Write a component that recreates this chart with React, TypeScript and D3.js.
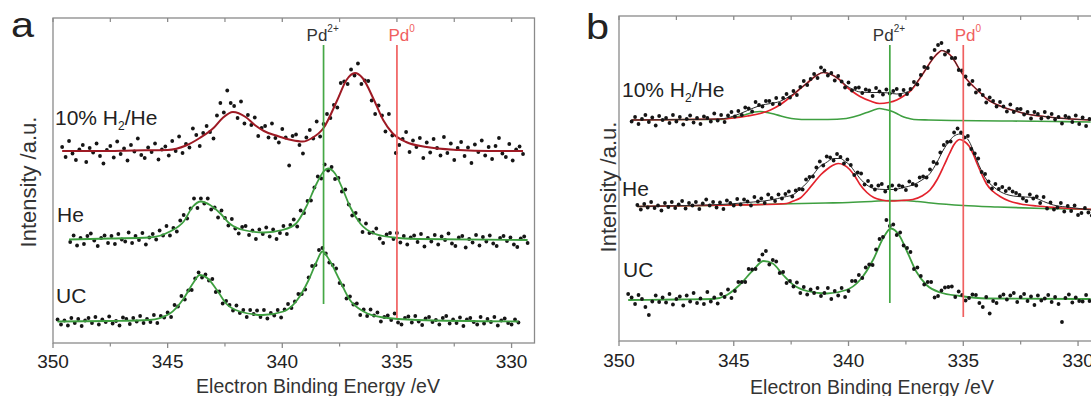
import React from 'react';
import * as d3 from 'd3';

type Pt = [number, number];

// ---------- measurement grid ----------
const STEP = 0.15; // eV between recorded points

// ---------- panel a : recorded intensities (a.u.) ----------
const aH2Start = 349.6;
const aH2 = [
  392,372,404,379,366,387,396,362,390,381,
  399,374,359,386,394,371,403,378,389,365,
  396,383,409,376,370,391,382,399,367,387,
  393,375,404,384,413,380,398,391,429,416,
  394,420,434,422,409,455,480,461,505,480,
  474,450,483,439,456,436,451,414,430,434,
  411,439,410,401,428,411,355,414,417,396,
  379,411,426,409,443,413,438,458,450,476,
  471,520,523,518,547,535,559,518,525,524,
  485,458,475,455,423,458,415,380,396,408,
  422,382,405,392,410,370,401,381,408,390,
  375,412,380,399,366,390,402,374,391,360,
  397,382,405,375,392,368,394,410,379,372,
  398,365,387,393,378,
];
const aHeStart = 349.25;
const aHe = [
  202,215,195,210,198,214,219,205,194,210,
  215,200,214,198,218,207,203,221,200,214,
  206,220,197,211,218,207,225,215,234,215,
  230,223,245,256,249,269,289,270,289,279,
  289,267,271,251,265,250,235,248,229,219,
  232,234,216,225,208,227,218,231,213,227,
  208,220,234,218,236,247,233,265,260,284,
  285,311,333,329,357,345,352,328,330,303,
  307,277,255,260,246,222,239,220,221,229,
  209,200,217,220,208,220,201,214,197,211,
  215,202,218,193,210,203,216,197,213,206,
  219,199,194,211,214,191,208,201,216,195,
  212,203,215,199,194,210,214,204,211,197,
  192,209,213,200,
];
const aUCStart = 349.8;
const aUC = [
  47,37,45,35,50,40,48,34,45,50,
  40,52,37,47,42,53,39,44,35,51,
  48,38,50,43,54,40,48,42,56,40,
  54,51,61,52,76,73,94,87,105,106,
  129,141,131,137,125,128,102,103,79,84,
  76,65,75,60,66,52,66,58,65,52,
  66,49,60,55,66,51,67,78,70,83,
  98,98,107,131,154,156,186,190,179,161,
  156,149,120,115,89,93,77,79,56,67,
  54,67,55,61,43,52,55,46,59,41,
  37,50,53,41,54,43,36,49,52,42,
  46,37,50,54,39,47,40,51,34,47,
  50,42,37,52,39,48,42,52,35,45,
  49,40,37,47,41,
];

// ---------- panel a : fitted envelopes [eV, a.u.] ----------
const aH2Fit: Pt[] = [[349.6,384],[348,384],[346.5,385],[345,386],[344.2,395],[343.6,410],[343,430],[342.6,450],[342.15,462],[341.6,452],[341.2,436],[340.8,424],[340.2,414],[339.6,406],[339.1,403],[338.7,410],[338.2,430],[337.6,486],[337.2,526],[336.83,540],[336.5,530],[336,486],[335.6,446],[335.2,420],[334.6,402],[333.7,392],[332.3,386],[331,384],[329.5,384]];
const aHeFit: Pt[] = [[349.3,207],[347.5,209],[345.8,211],[344.9,223],[344.3,243],[343.9,273],[343.55,283],[343.15,276],[342.7,259],[342.3,239],[341.7,226],[340.8,221],[340,226],[339.4,239],[338.95,273],[338.5,319],[338.2,343],[338,349],[337.7,339],[337.35,306],[337.05,273],[336.6,239],[336,219],[335.15,211],[334.1,208],[329.3,206]];
const aUCFit: Pt[] = [[349.8,43],[347.5,44],[345.8,46],[344.9,59],[344.3,89],[343.9,119],[343.6,136],[343.25,129],[342.85,106],[342.45,79],[341.85,63],[340.85,56],[339.95,63],[339.35,86],[338.85,126],[338.5,163],[338.25,183],[337.95,166],[337.5,126],[337.05,86],[336.45,63],[335.6,51],[334.1,46],[329.7,43]];

// ---------- panel b : recorded intensities (a.u.) ----------
const bH2Start = 349.45;
const bH2 = [
  439,448,434,444,452,438,447,431,450,442,
  446,436,452,439,448,433,444,451,437,446,
  434,449,446,439,455,441,452,438,451,458,
  449,460,452,467,465,459,478,472,469,480,
  480,474,486,474,486,494,487,500,492,508,
  520,512,524,534,526,547,541,531,536,521,
  530,519,507,517,501,506,507,496,503,501,
  490,506,499,493,503,495,500,504,492,502,
  494,504,518,513,532,548,546,566,582,592,
  596,573,580,566,566,542,541,529,513,520,
  497,502,492,477,487,480,469,478,469,459,
  473,458,464,464,453,458,445,458,454,445,
  458,447,454,443,448,435,450,447,438,451,
  434,447,430,444,437,
];
const bHeStart = 349.2;
const bHe = [
  272,263,274,267,278,266,271,261,276,268,
  278,266,273,280,265,276,271,278,264,275,
  283,271,278,267,277,264,281,276,271,284,
  273,283,279,271,288,279,285,276,293,286,
  280,293,285,294,299,289,301,304,303,323,
  328,329,347,359,351,369,367,361,374,368,
  355,363,352,332,337,335,313,320,310,303,
  311,314,299,308,311,303,311,309,302,319,
  314,311,327,329,327,343,358,355,377,392,
  398,399,417,425,417,407,410,384,375,365,
  338,334,319,305,314,304,308,300,305,299,
  296,292,285,280,293,285,289,276,288,265,
  277,263,267,276,259,270,260,271,252,256,
  266,257,251,266,
];
const bUCStart = 349.6;
const bUC = [
  94,87,74,92,84,68,52,79,91,78,
  87,77,94,73,84,89,71,91,79,96,
  76,85,74,98,79,87,75,94,88,103,
  86,100,118,118,118,144,143,144,162,173,
  180,153,162,159,136,138,116,120,109,117,
  96,108,93,103,96,106,90,96,106,84,
  100,91,106,88,100,120,120,132,126,147,
  153,152,183,204,208,242,230,233,212,217,
  191,186,178,144,147,130,113,118,118,87,
  90,101,107,108,109,88,99,92,81,86,
  93,92,76,68,88,55,80,76,89,93,
  83,91,96,78,88,94,80,89,72,91,
  81,85,92,78,88,74,38,86,93,77,
  87,80,79,92,80,88,
];

// ---------- panel b : fitted components [eV, a.u.] ----------
const bH2Green: Pt[] = [[349.45,442],[346.5,443],[345.6,443],[345.3,445],[345,447],[344.7,450],[344.4,454],[344.1,458],[343.85,459],[343.55,457],[343.25,454],[342.95,450],[342.7,447],[342.3,444],[341.8,443],[340.9,443],[340.1,445],[339.8,448],[339.5,452],[339.2,457],[338.9,462],[338.65,465],[338.4,463],[338.15,460],[337.9,455],[337.7,450],[337.45,446],[337.15,443],[336.5,442],[335.4,441],[333,440],[331,439],[329.45,438]];
const bH2Red: Pt[] = [[349.45,442],[347,443],[345.6,444],[345,446],[344.4,450],[343.85,455],[343.4,462],[343,472],[342.7,482],[342.4,493],[342.1,505],[341.8,516],[341.4,531],[341.1,537],[340.75,533],[340.4,523],[340.1,509],[339.8,498],[339.5,489],[339.05,480],[338.65,475],[338.25,477],[337.9,482],[337.6,490],[337.3,500],[337,518],[336.75,535],[336.5,553],[336.3,566],[336.1,576],[335.94,581],[335.75,578],[335.55,571],[335.35,558],[335.15,542],[334.9,526],[334.55,509],[334.25,496],[334,485],[333.55,473],[333.1,465],[332.65,459],[332.25,454],[331.65,450],[331.1,447],[330.3,444],[329.45,442]];
const bH2Sum: Pt[] = [[349.45,442],[347,443],[345.6,444],[345,450],[344.4,461],[343.85,471],[343.4,475],[343,479],[342.7,486],[342.4,494],[342.1,505],[341.8,516],[341.4,531],[341.1,537],[340.75,533],[340.4,523],[340.1,511],[339.8,503],[339.5,498],[339.05,497],[338.65,497],[338.25,496],[337.9,494],[337.6,496],[337.3,502],[337,519],[336.75,535],[336.5,553],[336.3,566],[336.1,576],[335.94,581],[335.75,578],[335.55,571],[335.35,558],[335.15,542],[334.9,526],[334.55,509],[334.25,496],[334,485],[333.55,473],[333.1,465],[332.65,459],[332.25,454],[331.65,450],[331.1,447],[330.3,444],[329.45,442]];
const bHeGreen: Pt[] = [[349.2,269],[346,271],[343,274],[341,276],[340,277],[339,279],[338.2,281],[337.6,281],[337,279],[336.4,276],[335,271],[333.5,268],[331.5,265],[329.4,263]];
const bHeRed: Pt[] = [[349.2,269],[345,272],[343,274],[342.7,275],[342.4,280],[342.1,286],[341.8,300],[341.5,317],[341.2,333],[340.95,343],[340.7,351],[340.45,355],[340.2,352],[339.95,343],[339.7,328],[339.5,313],[339.2,297],[338.9,287],[338.55,282],[338.2,280],[337.7,281],[337.2,283],[336.8,290],[336.45,302],[336.15,322],[335.85,350],[335.6,375],[335.4,393],[335.15,403],[334.95,399],[334.75,390],[334.55,372],[334.4,355],[334.2,334],[334,315],[333.7,299],[333.4,289],[333,280],[332.5,274],[331.8,270],[331,267],[329.4,263]];
const bHeSum: Pt[] = [[349.2,269],[347,271],[345.6,273],[344.4,277],[343.4,282],[342.8,288],[342.4,293],[342.1,304],[341.8,317],[341.5,335],[341.25,349],[341,356],[340.65,365],[340.35,365],[340.15,359],[339.95,352],[339.7,337],[339.5,325],[339.2,312],[338.9,305],[338.4,303],[338.05,303],[337.6,307],[337.2,312],[336.8,322],[336.45,335],[336.15,357],[335.87,382],[335.6,400],[335.43,409],[335.14,414],[334.95,409],[334.78,402],[334.6,385],[334.41,362],[334.2,340],[333.98,322],[333.7,309],[333.4,299],[332.82,290],[332.3,288],[331.95,287],[331.5,279],[331.08,272],[330.3,267],[329.4,262]];
const bUCFit: Pt[] = [[349.6,82],[347.5,83],[345.9,84],[345.3,92],[344.75,112],[344.15,142],[343.7,160],[343.3,155],[342.85,132],[342.4,112],[341.8,100],[340.95,95],[340.1,102],[339.5,122],[338.9,165],[338.5,205],[338.15,225],[337.8,212],[337.45,179],[337.05,139],[336.6,112],[336,97],[335.15,90],[334,85],[329.45,84]];

// ---------- axes ----------
const majorTicks = [350, 345, 340, 335, 330];
const minorTicks = [347.5, 342.5, 337.5, 332.5];
const xDomain: [number, number] = [350, 329];
const yDomain: [number, number] = [0, 650];
const pd2Energy = 338.2;
const pd0Energy = 335.0;
const seriesNames = ['10% H', 'He', 'UC'];

// ---------- styles ----------
const FONT = "'Liberation Sans', Arial, Helvetica, sans-serif";
const GREEN = '#3e9f40';
const DARKRED = '#9e1a24';
const RED = '#e3222c';
const VRED = '#f06060';
const VGREEN = '#45a845';
const TEXT = '#222';
const FRAME = '#8a8a8a';

type Fit = { pts: Pt[]; color: string; width: number };
type Series = { start: number; values: number[] };
type Label = { x: number; y: number; kind: 'h2' | 'plain'; text: string };

type PanelCfg = {
  letter: string; letterX: number; letterY: number;
  left: number; right: number; top: number; bottom: number;
  yTitleX: number; yTitleY: number; xTitleX: number; xTitleY: number;
  tickLabelDy: number;
  series: Series[]; fits: Fit[]; dotsOnTop: boolean;
  labels: Label[];
  vTop: number; pd2Bottom: number; pd0Bottom: number;
};

function toPts(s: Series): Pt[] {
  return s.values.map((v, i) => [s.start - STEP * i, v]);
}

function Panel({ c }: { c: PanelCfg }) {
  const x = d3.scaleLinear().domain(xDomain).range([c.left, c.right]);
  const y = d3.scaleLinear().domain(yDomain).range([c.bottom, c.top]);
  const line = d3.line<Pt>().x(d => x(d[0])).y(d => y(d[1])).curve(d3.curveMonotoneX);

  const dots = (
    <g fill="#151515">
      {c.series.map((s, si) =>
        toPts(s).map((p, i) => (
          <circle key={si + '-' + i} cx={x(p[0])} cy={y(p[1])} r={1.9} />
        ))
      )}
    </g>
  );
  const fits = (
    <g fill="none">
      {c.fits.map((f, i) => (
        <path key={i} d={line(f.pts) || ''} stroke={f.color} strokeWidth={f.width} strokeLinejoin="round" />
      ))}
    </g>
  );

  const x2 = x(pd2Energy);
  const x0 = x(pd0Energy);

  return (
    <g fontFamily={FONT}>
      <rect x={c.left} y={c.top} width={c.right - c.left} height={c.bottom - c.top} fill="none" stroke={FRAME} strokeWidth={1.3} />
      {majorTicks.map(t => (
        <g key={'M' + t}>
          <line x1={x(t)} x2={x(t)} y1={c.bottom} y2={c.bottom + 5} stroke={FRAME} strokeWidth={1.3} />
          <line x1={x(t)} x2={x(t)} y1={c.top} y2={c.top + 4} stroke={FRAME} strokeWidth={1.3} />
          <text x={x(t)} y={c.bottom + c.tickLabelDy} textAnchor="middle" fontSize={19} fill={TEXT}>{String(t)}</text>
        </g>
      ))}
      {minorTicks.map(t => (
        <g key={'m' + t}>
          <line x1={x(t)} x2={x(t)} y1={c.bottom} y2={c.bottom + 3.5} stroke={FRAME} strokeWidth={1.2} />
          <line x1={x(t)} x2={x(t)} y1={c.top} y2={c.top + 4} stroke={FRAME} strokeWidth={1.2} />
        </g>
      ))}
      {c.dotsOnTop ? fits : dots}
      {c.dotsOnTop ? dots : fits}
      <line x1={x2} x2={x2} y1={c.vTop} y2={c.pd2Bottom} stroke={VGREEN} strokeWidth={1.7} />
      <line x1={x0} x2={x0} y1={c.vTop} y2={c.pd0Bottom} stroke={VRED} strokeWidth={1.7} />
      <text x={x2 - 17} y={41} fontSize={17} fill="#333">Pd<tspan fontSize={10} dy={-9}>2+</tspan></text>
      <text x={x0 - 8.5} y={41} fontSize={17} fill={VRED}>Pd<tspan fontSize={10} dy={-9}>0</tspan></text>
      {c.labels.map((l, i) =>
        l.kind === 'h2' ? (
          <text key={i} x={l.x} y={l.y} fontSize={21} fill={TEXT}>
            {l.text}<tspan fontSize={12} dy={5}>2</tspan><tspan dy={-5}>/He</tspan>
          </text>
        ) : (
          <text key={i} x={l.x} y={l.y} fontSize={21} fill={TEXT}>{l.text}</text>
        )
      )}
      <text transform={`translate(${c.letterX},${c.letterY}) scale(1.15,1)`} fontSize={36} fill={TEXT}>{c.letter}</text>
      <text transform={`translate(${c.yTitleX},${c.yTitleY}) rotate(-90)`} textAnchor="middle" fontSize={22} fill="#333">Intensity /a.u.</text>
      <text x={c.xTitleX} y={c.xTitleY} textAnchor="middle" fontSize={19.5} fill="#333">Electron Binding Energy /eV</text>
    </g>
  );
}

const panelA: PanelCfg = {
  letter: 'a', letterX: 11, letterY: 37,
  left: 53, right: 534.5, top: 18, bottom: 343,
  yTitleX: 36, yTitleY: 182, xTitleX: 318, xTitleY: 393, tickLabelDy: 25,
  series: [
    { start: aH2Start, values: aH2 },
    { start: aHeStart, values: aHe },
    { start: aUCStart, values: aUC },
  ],
  fits: [
    { pts: aH2Fit, color: DARKRED, width: 2 },
    { pts: aHeFit, color: GREEN, width: 1.8 },
    { pts: aUCFit, color: GREEN, width: 1.8 },
  ],
  dotsOnTop: false,
  labels: [
    { x: 55, y: 125, kind: 'h2', text: seriesNames[0] },
    { x: 57, y: 222, kind: 'plain', text: seriesNames[1] },
    { x: 56, y: 303, kind: 'plain', text: seriesNames[2] },
  ],
  vTop: 45, pd2Bottom: 304, pd0Bottom: 318,
};

const panelB: PanelCfg = {
  letter: 'b', letterX: 586, letterY: 39,
  left: 619, right: 1101, top: 16, bottom: 341,
  yTitleX: 616, yTitleY: 187, xTitleX: 872, xTitleY: 394, tickLabelDy: 26,
  series: [
    { start: bH2Start, values: bH2 },
    { start: bHeStart, values: bHe },
    { start: bUCStart, values: bUC },
  ],
  fits: [
    { pts: bH2Green, color: GREEN, width: 1.6 },
    { pts: bH2Red, color: RED, width: 1.7 },
    { pts: bH2Sum, color: '#2a2a2a', width: 1 },
    { pts: bHeGreen, color: GREEN, width: 1.6 },
    { pts: bHeRed, color: RED, width: 1.7 },
    { pts: bHeSum, color: '#2a2a2a', width: 1 },
    { pts: bUCFit, color: GREEN, width: 1.8 },
  ],
  dotsOnTop: true,
  labels: [
    { x: 622, y: 97, kind: 'h2', text: seriesNames[0] },
    { x: 622, y: 196, kind: 'plain', text: seriesNames[1] },
    { x: 623, y: 277, kind: 'plain', text: seriesNames[2] },
  ],
  vTop: 45, pd2Bottom: 303, pd0Bottom: 317,
};

export default function App() {
  return (
    <svg width={1091} height={396} viewBox="0 0 1091 396"
      style={{ position: 'absolute', left: 0, top: 0, background: '#fff' }}>
      <rect width={1091} height={396} fill="#fff" />
      <Panel c={panelA} />
      <Panel c={panelB} />
    </svg>
  );
}
